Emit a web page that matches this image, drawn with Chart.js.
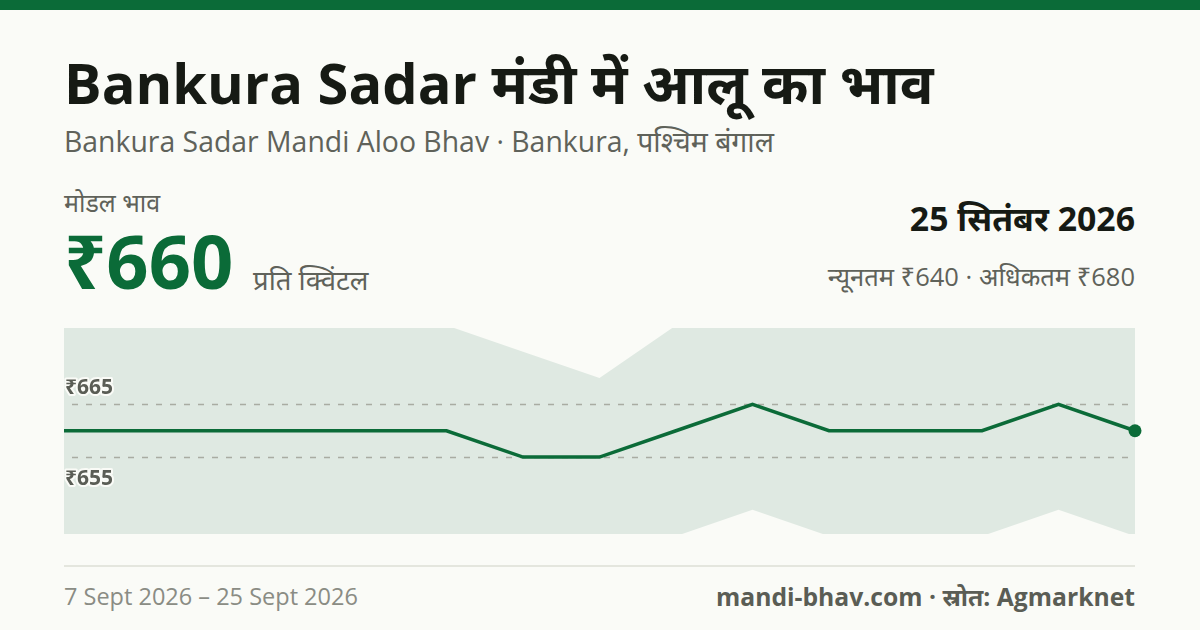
<!DOCTYPE html>
<html>
<head>
<meta charset="utf-8">
<script src="https://cdn.jsdelivr.net/npm/chart.js@4"></script>
<style>
  body { margin: 0; width: 1200px; height: 630px; background: #fafbf7; overflow: hidden;
         font-family: "Open Sans", "Noto Sans", sans-serif; position: relative; }
  .t { position: absolute; line-height: 1; white-space: nowrap; }
  #bar { position: absolute; left: 0; top: 0; width: 1200px; height: 10px; background: #0b6b38; }
  #rule { position: absolute; left: 64px; top: 565px; width: 1071px; height: 2px; background: #e4e6de; }
  #wrap { position: absolute; left: 44px; top: 308px; width: 1111px; height: 246px; }
</style>
</head>
<body>
<div id="bar"></div>
<div class="t" style="left:64px;top:54px;font-size:56px;font-weight:700;color:#161a14">Bankura Sadar मंडी में आलू का भाव</div>
<div class="t" style="left:64px;top:126.5px;font-size:28.4px;color:#5f625a">Bankura Sadar Mandi Aloo Bhav · Bankura, पश्चिम बंगाल</div>
<div class="t" style="left:64px;top:190px;font-size:25px;color:#5f625a">मोडल भाव</div>
<div class="t" style="left:64px;top:224px;font-size:74px;font-weight:700;color:#0b6b38">₹660</div>
<div class="t" style="left:253px;top:266px;font-size:27.5px;color:#5f625a">प्रति क्विंटल</div>
<div class="t" style="right:65px;top:202px;font-size:33.8px;font-weight:700;color:#161a14">25 सितंबर 2026</div>
<div class="t" style="right:65px;top:264px;font-size:25.5px;color:#5f625a">न्यूनतम ₹640 · अधिकतम ₹680</div>
<div id="wrap"><canvas id="myChart" width="1111" height="246"></canvas></div>
<div id="rule"></div>
<div class="t" style="left:64px;top:585px;font-size:23.5px;color:#8a8c84">7 Sept 2026 – 25 Sept 2026</div>
<div class="t" style="right:65px;top:585px;font-size:24.7px;font-weight:700;color:#5a5d55">mandi-bhav.com · स्रोत: Agmarknet</div>

<script>
// daily prices, Rs per quintal
const dates = ['7 Sep', '8 Sep', '9 Sep', '10 Sep', '11 Sep', '12 Sep', '14 Sep', '15 Sep',
               '16 Sep', '17 Sep', '18 Sep', '21 Sep', '22 Sep', '23 Sep', '25 Sep'];
const modalPrice = [660, 660, 660, 660, 660, 660, 655, 655, 660, 665, 660, 660, 660, 665, 660];
const minPrice   = [640, 640, 640, 640, 640, 640, 640, 640, 640, 645, 640, 640, 640, 645, 640];
const maxPrice   = [680, 680, 680, 680, 680, 680, 675, 670, 680, 680, 680, 680, 680, 680, 680];
const yTicks = [655, 665];

const green = '#0b6b38';

// dashed guide lines at the tick values, drawn over the band but under the price line
const guides = {
  id: 'guides',
  beforeDatasetDraw(chart, args) {
    if (args.index != 2) return;
    const ctx = chart.ctx;
    const y = chart.scales.y;
    const area = chart.chartArea;
    ctx.save();
    ctx.strokeStyle = '#a9aca2';
    ctx.lineWidth = 1.5;
    ctx.setLineDash([6, 8]);
    yTicks.forEach(v => {
      const py = Math.round(y.getPixelForValue(v)) + 0.5;
      ctx.beginPath();
      ctx.moveTo(area.left + 8, py);
      ctx.lineTo(area.right, py);
      ctx.stroke();
    });
    ctx.restore();
  }
};

// y tick labels drawn inside the plot, with a light halo
const tickLabels = {
  id: 'tickLabels',
  afterDraw(chart) {
    const ctx = chart.ctx;
    const y = chart.scales.y;
    const left = chart.chartArea.left;
    ctx.save();
    ctx.font = '700 21px "Open Sans", "Noto Sans", sans-serif';
    ctx.textAlign = 'left';
    ctx.textBaseline = 'alphabetic';
    ctx.lineJoin = 'round';
    yTicks.forEach((v, i) => {
      const py = y.getPixelForValue(v);
      const by = i == yTicks.length - 1 ? py - 10 : py + 27.5;
      const txt = '₹' + v;
      ctx.lineWidth = 4;
      ctx.strokeStyle = '#fafbf7';
      ctx.strokeText(txt, left + 1, by);
      ctx.fillStyle = '#5a5d55';
      ctx.fillText(txt, left + 1, by);
    });
    ctx.restore();
  }
};

const pointSizes = modalPrice.map((v, i) => i == modalPrice.length - 1 ? 6.5 : 0);

const config = {
  type: 'line',
  data: {
    labels: dates,
    datasets: [
      {
        label: 'max',
        data: maxPrice,
        borderWidth: 0,
        pointRadius: 0,
        backgroundColor: '#dfe9e2',
        fill: '+1',
        tension: 0
      },
      {
        label: 'min',
        data: minPrice,
        borderWidth: 0,
        pointRadius: 0,
        fill: false,
        tension: 0
      },
      {
        label: 'modal',
        data: modalPrice,
        borderColor: green,
        backgroundColor: green,
        borderWidth: 3.5,
        pointRadius: pointSizes,
        pointBorderWidth: 0,
        fill: false,
        tension: 0,
        clip: false,
        order: -1
      }
    ]
  },
  options: {
    responsive: false,
    animation: false,
    layout: { padding: 20 },
    plugins: { legend: { display: false }, tooltip: { enabled: false } },
    scales: {
      x: { display: false, offset: false },
      y: { display: false, min: 640.4, max: 679.5 }
    }
  },
  plugins: [guides, tickLabels]
};

const myChart = new Chart(document.getElementById('myChart'), config);
</script>
</body>
</html>
